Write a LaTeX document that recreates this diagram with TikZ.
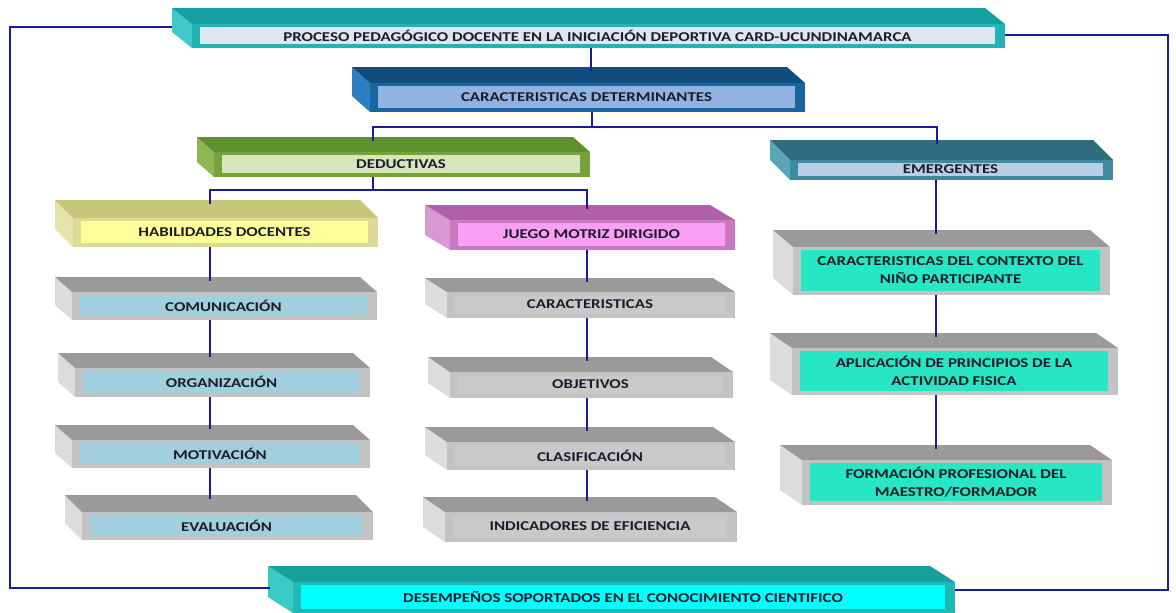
\documentclass[tikz,border=0pt]{standalone}
\usepackage{fontspec}
\setmainfont{Carlito}[FakeStretch=1.25]
\usetikzlibrary{calc}
% colour schemes: top / front / side / inner
\definecolor{tltop}{HTML}{179F9F}\definecolor{tlfront}{HTML}{22B4B4}\definecolor{tlside}{HTML}{40C9C9}\definecolor{tlin}{HTML}{DFE5F1}
\definecolor{dbtop}{HTML}{0F4E7E}\definecolor{dbfront}{HTML}{1865A0}\definecolor{dbside}{HTML}{2B7FC0}\definecolor{dbin}{HTML}{92B3E2}
\definecolor{gntop}{HTML}{5F8F2E}\definecolor{gnfront}{HTML}{76A23C}\definecolor{gnside}{HTML}{8CB852}\definecolor{gnin}{HTML}{D8E4BC}
\definecolor{ytop}{HTML}{C8C67A}\definecolor{yfront}{HTML}{DCDA96}\definecolor{yside}{HTML}{E6E4AA}\definecolor{yin}{HTML}{FFFF99}
\definecolor{mgtop}{HTML}{B060A8}\definecolor{mgfront}{HTML}{C878C0}\definecolor{mgside}{HTML}{D898D0}\definecolor{mgin}{HTML}{F9A0F5}
\definecolor{emtop}{HTML}{2F6D7F}\definecolor{emfront}{HTML}{3F8AA0}\definecolor{emside}{HTML}{5AA5B8}\definecolor{emin}{HTML}{B9CDE5}
\definecolor{gbtop}{HTML}{9A9A9A}\definecolor{gbfront}{HTML}{C3C3C3}\definecolor{gbside}{HTML}{DCDCDC}\definecolor{gbin}{HTML}{A2CFDD}
\definecolor{ggtop}{HTML}{9A9A9A}\definecolor{ggfront}{HTML}{C3C3C3}\definecolor{ggside}{HTML}{DCDCDC}\definecolor{ggin}{HTML}{C9C9C9}
\definecolor{gatop}{HTML}{9A9A9A}\definecolor{gafront}{HTML}{C3C3C3}\definecolor{gaside}{HTML}{DCDCDC}\definecolor{gain}{HTML}{26E6C3}
\definecolor{cytop}{HTML}{18A09C}\definecolor{cyfront}{HTML}{1FB8B4}\definecolor{cyside}{HTML}{38CBC6}\definecolor{cyin}{HTML}{00FFFF}
\definecolor{txt}{HTML}{1C1C2C}
\definecolor{linecol}{HTML}{1A1A9E}
\tikzset{
  boxtext/.style={inner sep=0pt, align=center, text=txt,
    font=\bfseries\fontsize{13.5}{18}\selectfont},
  conn/.style={draw=linecol, line width=2.6pt},
}
% #1 name, #2 L, #3 T, #4 R, #5 B, #6 dx, #7 dy, #8 scheme, #9 text
\newcommand\cbox[9]{%
  \fill[#8side] (#2,#3) -- ({#2+#6},{#3+#7}) -- ({#2+#6},#5) -- (#2,{#5-#7}) -- cycle;
  \fill[#8top] (#2,#3) -- ({#4-#6},#3) -- (#4,{#3+#7}) -- ({#2+#6},{#3+#7}) -- cycle;
  \fill[#8front] ({#2+#6},{#3+#7}) rectangle (#4,#5);
  \node[boxtext, fill=#8in, minimum width={#4-10-(#2+#6+8)}, minimum height={#5-4-(#3+#7+3)}]
    (#1) at ({(#2+#6+8+#4-10)/2},{(#3+#7+3+#5-4)/2}) {#9};
  \coordinate (#1-n) at ({(#2+#4)/2},{#3+4});
  \coordinate (#1-s) at ({(#2+#4)/2},#5);
}
\begin{document}
\begin{tikzpicture}[x=1pt,y=-1pt]
\useasboundingbox[fill=white] (0,0) rectangle (1176,613);
\cbox{title}{172}{8}{1005}{48}{20}{16}{tl}{PROCESO PEDAGÓGICO DOCENTE EN LA INICIACIÓN DEPORTIVA CARD-UCUNDINAMARCA}
\cbox{det}{352}{67}{805}{112}{18}{16}{db}{CARACTERISTICAS DETERMINANTES}
\cbox{ded}{197}{137}{590}{177}{17}{15}{gn}{DEDUCTIVAS}
\cbox{eme}{770}{140}{1113}{180}{20}{20}{em}{EMERGENTES}
\cbox{hab}{55}{200}{378}{247}{18}{18}{y}{HABILIDADES DOCENTES}
\cbox{com}{55}{277}{377}{320}{17}{15}{gb}{COMUNICACIÓN}
\cbox{org}{58}{353}{370}{397}{17}{15}{gb}{ORGANIZACIÓN}
\cbox{mot}{55}{425}{370}{468}{17}{15}{gb}{MOTIVACIÓN}
\cbox{eva}{65}{495}{373}{540}{17}{17}{gb}{EVALUACIÓN}
\cbox{jue}{425}{205}{735}{250}{25}{15}{mg}{JUEGO MOTRIZ DIRIGIDO}
\cbox{car}{425}{278}{735}{318}{22}{14}{gg}{CARACTERISTICAS}
\cbox{obj}{428}{357}{733}{398}{22}{15}{gg}{OBJETIVOS}
\cbox{cla}{425}{427}{735}{470}{22}{15}{gg}{CLASIFICACIÓN}
\cbox{ind}{423}{497}{737}{542}{22}{15}{gg}{INDICADORES DE EFICIENCIA}
\cbox{ctx}{773}{230}{1110}{295}{20}{17}{ga}{CARACTERISTICAS DEL CONTEXTO DEL\\NIÑO PARTICIPANTE}
\cbox{apl}{770}{333}{1118}{395}{22}{15}{ga}{APLICACIÓN DE PRINCIPIOS DE LA\\ACTIVIDAD FISICA}
\cbox{for}{780}{445}{1112}{505}{22}{15}{ga}{FORMACIÓN PROFESIONAL DEL\\MAESTRO/FORMADOR}
\cbox{des}{268}{566}{955}{613}{25}{16}{cy}{DESEMPEÑOS SOPORTADOS EN EL CONOCIMIENTO CIENTIFICO}
% connector columns
\coordinate (xa) at (591,0);
\coordinate (xb) at (592,0);
\coordinate (xd) at (373,0);
\coordinate (xe) at (937,0);
\coordinate (x1) at (210,0);
\coordinate (x2) at (587,0);
\coordinate (x3) at (936,0);
\coordinate (hub1) at (592,127);
\coordinate (hub2) at (373,190);
% connectors
\draw[conn] (title-s -| xa) -- (xa |- det-n);
\draw[conn] (det-s -| xb) -- (hub1);
\draw[conn] (xd |- ded-n) |- (hub1) -| (xe |- eme-n);
\draw[conn] (ded-s -| xd) -- (hub2);
\draw[conn] (x1 |- hab-n) |- (hub2) -| (x2 |- jue-n);
\draw[conn] (hab-s -| x1) -- (x1 |- com-n);
\draw[conn] (com-s -| x1) -- (x1 |- org-n);
\draw[conn] (org-s -| x1) -- (x1 |- mot-n);
\draw[conn] (mot-s -| x1) -- (x1 |- eva-n);
\draw[conn] (jue-s -| x2) -- (x2 |- car-n);
\draw[conn] (car-s -| x2) -- (x2 |- obj-n);
\draw[conn] (obj-s -| x2) -- (x2 |- cla-n);
\draw[conn] (cla-s -| x2) -- (x2 |- ind-n);
\draw[conn] (eme-s -| x3) -- (x3 |- ctx-n);
\draw[conn] (ctx-s -| x3) -- (x3 |- apl-n);
\draw[conn] (apl-s -| x3) -- (x3 |- for-n);
% feedback loop
\coordinate (tw) at (172,27);
\coordinate (te) at (1005,35);
\coordinate (dw) at (270,588);
\coordinate (de) at (955,590);
\draw[conn] (tw) -- (10,27) |- (dw);
\draw[conn] (te) -- (1168,35) |- (de);
\end{tikzpicture}
\end{document}
